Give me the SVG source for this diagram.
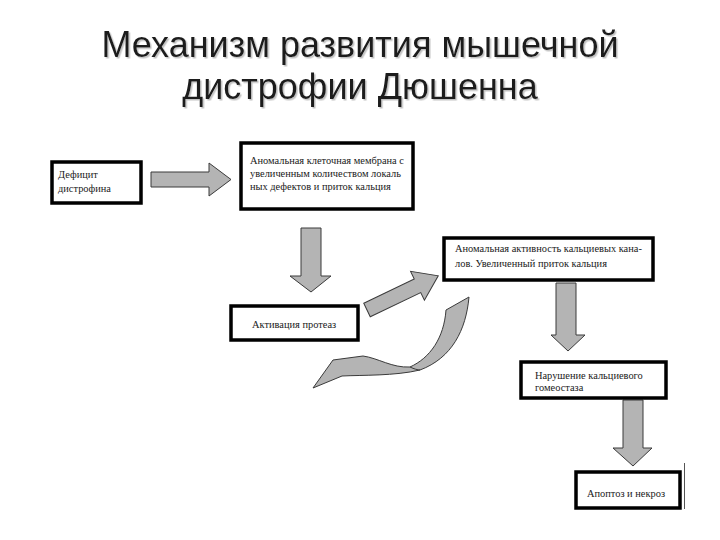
<svg xmlns="http://www.w3.org/2000/svg" width="720" height="540" viewBox="0 0 720 540">
<defs>
<filter id="sh" x="-5%" y="-20%" width="110%" height="140%">
<feDropShadow dx="1.5" dy="1.5" stdDeviation="0.6" flood-color="#9a9a9a" flood-opacity="0.6"/>
</filter>
</defs>
<style>
.title{font-family:"Liberation Sans",Arial,sans-serif;font-size:36px;fill:#1a1a1a;text-anchor:middle}
.box{fill:#fff;stroke:#000;stroke-width:3.5}
.t{font-family:"Liberation Serif","Times New Roman",serif;font-size:10.4px;fill:#1a1a1a}
.arr{fill:#b4b4b4;stroke:#3a3a3a;stroke-width:1}
</style>
<rect width="720" height="540" fill="#fff"/>
<g id="title" filter="url(#sh)">
<text class="title" x="360" y="57">Механизм развития мышечной</text>
<text class="title" x="360" y="99">дистрофии Дюшенна</text>
</g>
<g id="connectors">
<polygon class="arr" points="151,172 209,172 209,163 231,179.5 209,196 209,187 151,187"/>
<polygon class="arr" points="301,228 321,228 321,276 331,276 311,292 290,276 301,276"/>
<polygon class="arr" points="556,283 576,283 576,335 585,335 568,351 551,335 556,335"/>
<polygon class="arr" points="623,400 643,400 643,448 652,448 633,466 613,448 623,448"/>
<polygon class="arr" transform="translate(367,310) rotate(-25.6)" points="0,-7.5 56,-7.5 56,-16 79,0 56,16 56,7.5 0,7.5"/>
<path class="arr" fill="#a8a8a8" d="M446,310 L469,297 C466,330 452,358 420,370 C395,376 362,375 342,376 L313,388 L333,360 L363,356 C378,358 392,368 410,367 C430,358 444,338 446,310 Z"/>
<path d="M410,367 C414,369 418,370 420,370" fill="none" stroke="#3a3a3a" stroke-width="1"/>
</g>
<g id="n1">
<rect class="box" x="52" y="162" width="89" height="41"/>
<text class="t" x="58" y="178">Дефицит</text>
<text class="t" x="58" y="192">дистрофина</text>
</g>
<g id="n2">
<rect class="box" x="241" y="143" width="172" height="66"/>
<text class="t" x="250" y="164">Аномальная клеточная мембрана с</text>
<text class="t" x="250" y="177">увеличенным количеством локаль</text>
<text class="t" x="250" y="190">ных дефектов и приток кальция</text>
</g>
<g id="n3">
<rect class="box" x="444" y="238" width="209" height="42"/>
<text class="t" x="455" y="252">Аномальная активность кальциевых кана-</text>
<text class="t" x="455" y="267">лов. Увеличенный приток кальция</text>
</g>
<g id="n4">
<rect class="box" x="231" y="306" width="127" height="34"/>
<text class="t" x="252" y="328">Активация протеаз</text>
</g>
<g id="n5">
<rect class="box" x="521" y="362" width="145" height="36"/>
<text class="t" x="535" y="379">Нарушение кальциевого</text>
<text class="t" x="535" y="391">гомеостаза</text>
</g>
<g id="n6">
<rect class="box" x="576" y="472" width="104" height="36"/>
<text class="t" x="587" y="497">Апоптоз и некроз</text>
<line x1="684.5" y1="463" x2="684.5" y2="509" stroke="#555" stroke-width="1"/>
</g>
</svg>
